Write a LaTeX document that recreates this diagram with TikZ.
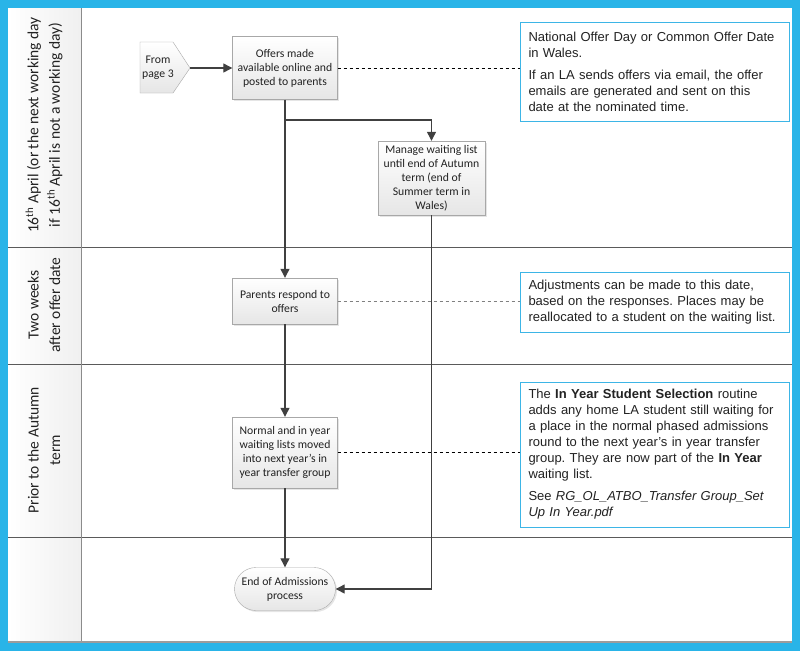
\documentclass[tikz,border=0pt]{standalone}
\usepackage{fontspec}
\setmainfont{Carlito}
\newfontfamily\notefont{Liberation Sans}
\usepackage{tikz}
\usetikzlibrary{arrows.meta,positioning,shapes.misc,shadows,calc}
\definecolor{frameblue}{HTML}{29B4E8}
\definecolor{noteblue}{HTML}{3DB5E6}
\definecolor{laneline}{HTML}{5A5A5A}
\definecolor{flowline}{HTML}{404040}
\definecolor{boxedge}{HTML}{A8A8A8}
\definecolor{boxfill}{HTML}{E6E6E6}
\definecolor{textdark}{HTML}{222222}
\frenchspacing

\tikzset{
  stepbox/.style={draw=boxedge, top color=white, bottom color=boxfill,
    drop shadow={opacity=0.2, shadow xshift=1.5pt, shadow yshift=-1.5pt},
    minimum width=105pt, align=center, inner sep=2pt, text=textdark,
    font=\fontsize{11.7}{14}\selectfont},
  notebox/.style={draw=noteblue, fill=white, line width=0.9pt,
    minimum width=269pt, text width=252pt, inner xsep=8.5pt, align=left,
    text=textdark, font=\notefont\fontsize{13}{16}\selectfont},
  lanelabel/.style={rotate=90, align=center, text=textdark,
    font=\fontsize{15.5}{21.5}\selectfont},
  flow/.style={flowline, line width=1.2pt, -{Triangle[length=9pt,width=9pt]}},
  link/.style={black, line width=0.6pt, dash pattern=on 3.5pt off 2.5pt},
}

\begin{document}
\begin{tikzpicture}[x=1pt,y=-1pt]
  % frame and lanes
  \fill[frameblue] (0,0) rectangle (800,651);
  \fill[white] (8,8) rectangle (792,642);
  \shade[left color=white, right color=gray!12] (8,8) rectangle (81,642);
  \foreach \y in {247,364,537}
    \draw[laneline, line width=1pt] (8,\y) -- (792,\y);
  \draw[laneline!70, line width=1pt] (81,8) -- (81,642);
  \draw[laneline!60, line width=1.5pt] (8,642) -- (792,642);

  \node[lanelabel] (lane1) at (44,125)
    {16\textsuperscript{th} April (or the next working day\\if 16\textsuperscript{th} April is not a working day)};
  \node[lanelabel] (lane2) at (44,305) {Two weeks\\after offer date};
  \node[lanelabel] (lane3) at (44,450) {Prior to the Autumn\\term};

  % off-page connector
  \draw[boxedge, top color=white, bottom color=boxfill]
    (140,42) -- (173,42) -- (190,68) -- (173,93) -- (140,93) -- cycle;
  \node[text=textdark, align=center, font=\fontsize{11.7}{14}\selectfont] (frompage) at (158,68) {From\\page 3};
  \coordinate (fromtip) at (190,68);

  % process steps
  \node[stepbox, minimum height=63pt] (offers) at (285,68)
    {Offers made\\available online and\\posted to parents};
  \node[stepbox, minimum width=107pt, minimum height=74pt] (manage) at (431.5,178)
    {Manage waiting list\\until end of Autumn\\term (end of\\Summer term in\\Wales)};
  \node[stepbox, minimum height=46pt] (respond) at (285,301)
    {Parents respond to\\offers};
  \node[stepbox, minimum height=71pt] (normal) at (285,452.5)
    {Normal and in year\\waiting lists moved\\into next year’s in\\year transfer group};
  \node[stepbox, rounded rectangle, minimum height=43pt] (finish) at (285,589)
    {End of Admissions\\process};

  % notes
  \node[notebox, minimum height=99pt] (note1) at (654.5,71.5)
    {National Offer Day or Common Offer Date\\in Wales.\\[6pt]
     If an LA sends offers via email, the offer\\emails are generated and sent on this\\date at the nominated time.};
  \node[notebox, minimum height=60pt] (note2) at (654.5,302)
    {Adjustments can be made to this date,\\based on the responses. Places may be\\reallocated to a student on the waiting list.};
  \node[notebox, minimum height=145pt] (note3) at (654.5,454.5)
    {The \textbf{In Year Student Selection} routine\\adds any home LA student still waiting for\\a place in the normal phased admissions\\round to the next year’s in year transfer\\group. They are now part of the \textbf{In Year}\\waiting list.\\[6pt]
     See \textit{RG\_OL\_ATBO\_Transfer Group\_Set}\\\textit{Up In Year.pdf}};

  % connectors
  \coordinate (split) at (285,120);
  \draw[flow] (fromtip) -- (offers.west);
  \draw[flow] (offers.south) -- (respond.north);
  \draw[flow] (split) -| (manage.north);
  \draw[flow] (respond.south) -- (normal.north);
  \draw[flow] (normal.south) -- (finish.north);
  \draw[flow] (manage.south) |- (finish.east);

  \draw[link] (offers.east) -- (offers.east -| note1.west);
  \draw[link, gray] (respond.east) -- (respond.east -| note2.west);
  \draw[link] (normal.east) -- (normal.east -| note3.west);
\end{tikzpicture}
\end{document}
